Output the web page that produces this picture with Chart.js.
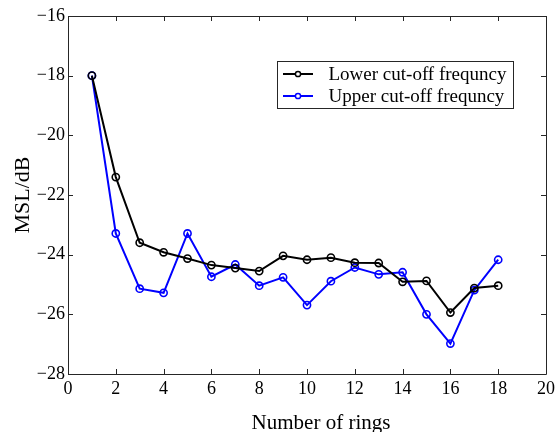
<!DOCTYPE html>
<html>
<head>
<meta charset="utf-8">
<script src="https://cdn.jsdelivr.net/npm/chart.js@4/dist/chart.umd.min.js"></script>
<style>
  html, body { margin: 0; padding: 0; background: #fff; }
  #wrap { width: 559px; height: 432px; }
</style>
</head>
<body>
<div id="wrap"><canvas id="chart" width="559" height="432"></canvas></div>
<script>
// data
const rings = [1, 2, 3, 4, 5, 6, 7, 8, 9, 10, 11, 12, 13, 14, 15, 16, 17, 18];
const lowerCut = [-18.0, -21.4, -23.6, -23.92, -24.13, -24.35, -24.45, -24.55, -24.04, -24.17,
                  -24.1, -24.27, -24.28, -24.91, -24.88, -25.94, -25.12, -25.04];
const upperCut = [-18.0, -23.29, -25.14, -25.28, -23.29, -24.74, -24.33, -25.04, -24.76, -25.69,
                  -24.89, -24.43, -24.66, -24.59, -26.0, -26.98, -25.19, -24.17];
const xTicks = [0, 2, 4, 6, 8, 10, 12, 14, 16, 18, 20];
const yTicks = [-28, -26, -24, -22, -20, -18, -16];
const seriesNames = ["Lower cut-off frequncy", "Upper cut-off frequncy"];
const seriesColors = ["#000000", "#0000ff"];
const xTitle = "Number of rings";
const yTitle = "MSL/dB";

const serif = "'Liberation Serif', 'Times New Roman', serif";
const frameColor = "#262626";

function toPoints(vals) {
    return rings.map((r, i) => ({x: r, y: vals[i]}));
}
function minusFmt(v) {
    return v < 0 ? "\u2212" + Math.abs(v) : String(v);
}

// matlab-like frame with inward ticks on every side
const framePlugin = {
    id: "frame",
    beforeDatasetsDraw(chart) {
        const {ctx, chartArea: a, scales} = chart;
        ctx.save();
        ctx.strokeStyle = frameColor;
        ctx.lineWidth = 1;
        ctx.beginPath();
        ctx.rect(Math.round(a.left) + 0.5, Math.round(a.top) + 0.5,
                 Math.round(a.right - a.left), Math.round(a.bottom - a.top));
        const len = 5;
        xTicks.forEach(v => {
            const px = Math.round(scales.x.getPixelForValue(v)) + 0.5;
            ctx.moveTo(px, a.bottom); ctx.lineTo(px, a.bottom - len);
            ctx.moveTo(px, a.top); ctx.lineTo(px, a.top + len);
        });
        yTicks.forEach(v => {
            const py = Math.round(scales.y.getPixelForValue(v)) + 0.5;
            ctx.moveTo(a.left, py); ctx.lineTo(a.left + len, py);
            ctx.moveTo(a.right, py); ctx.lineTo(a.right - len, py);
        });
        ctx.stroke();
        // x label sits a bit right of centre in the original figure
        ctx.fillStyle = "#000";
        ctx.font = "21px " + serif;
        ctx.textAlign = "center";
        ctx.textBaseline = "alphabetic";
        ctx.fillText(xTitle, (a.left + a.right) / 2 + 14, 429);
        ctx.restore();
    }
};

// boxed legend inside the axes, top right
const legendPlugin = {
    id: "boxLegend",
    afterDraw(chart) {
        const {ctx, chartArea: a} = chart;
        const bx = a.left + 209.5, by = a.top + 45.5, bw = 236, bh = 47;
        ctx.save();
        ctx.fillStyle = "#fff";
        ctx.fillRect(bx, by, bw, bh);
        ctx.strokeStyle = frameColor;
        ctx.lineWidth = 1;
        ctx.strokeRect(bx, by, bw, bh);
        ctx.font = "19px " + serif;
        ctx.textBaseline = "middle";
        chart.data.datasets.forEach((ds, i) => {
            const y = by + 12.5 + i * 22;
            ctx.strokeStyle = ds.borderColor;
            ctx.lineWidth = 2;
            ctx.beginPath();
            ctx.moveTo(bx + 5.5, y); ctx.lineTo(bx + 35.5, y);
            ctx.stroke();
            ctx.lineWidth = 1.5;
            ctx.beginPath();
            ctx.arc(bx + 20.5, y, 2.6, 0, Math.PI * 2);
            ctx.fillStyle = "#fff";
            ctx.fill();
            ctx.stroke();
            ctx.fillStyle = "#000";
            ctx.fillText(ds.label, bx + 51, y + 1);
        });
        ctx.restore();
    }
};

new Chart(document.getElementById("chart"), {
    type: "line",
    data: {
        datasets: seriesNames.map((name, i) => ({
            label: name,
            data: toPoints(i === 0 ? lowerCut : upperCut),
            borderColor: seriesColors[i],
            backgroundColor: "#ffffff",
            borderWidth: 2,
            pointRadius: 3.6,
            pointBorderWidth: 1.6,
            pointBackgroundColor: "rgba(255,255,255,0)",
            pointBorderColor: seriesColors[i],
            tension: 0
        }))
    },
    options: {
        responsive: false,
        animation: false,
        layout: { padding: { top: 16, right: 13, left: 0, bottom: 0 } },
        plugins: { legend: { display: false }, tooltip: { enabled: false } },
        scales: {
            x: {
                type: "linear",
                min: 0, max: 20,
                afterBuildTicks: s => { s.ticks = xTicks.map(v => ({value: v})); },
                afterFit: s => { s.height = 58; },
                grid: { display: false, drawTicks: false },
                border: { display: false },
                ticks: {
                    padding: 4,
                    color: "#000",
                    font: { family: serif, size: 18 },
                    maxRotation: 0,
                    callback: v => minusFmt(v)
                },
                title: { display: false }
            },
            y: {
                min: -28, max: -16,
                afterBuildTicks: s => { s.ticks = yTicks.map(v => ({value: v})); },
                afterFit: s => { s.width = 68; },
                grid: { display: false, drawTicks: false },
                border: { display: false },
                ticks: {
                    padding: 3,
                    color: "#000",
                    font: { family: serif, size: 18 },
                    callback: v => minusFmt(v)
                },
                title: {
                    display: true,
                    text: yTitle,
                    color: "#000",
                    font: { family: serif, size: 22 },
                    padding: { top: 10, bottom: 0 }
                }
            }
        }
    },
    plugins: [framePlugin, legendPlugin]
});
</script>
</body>
</html>
